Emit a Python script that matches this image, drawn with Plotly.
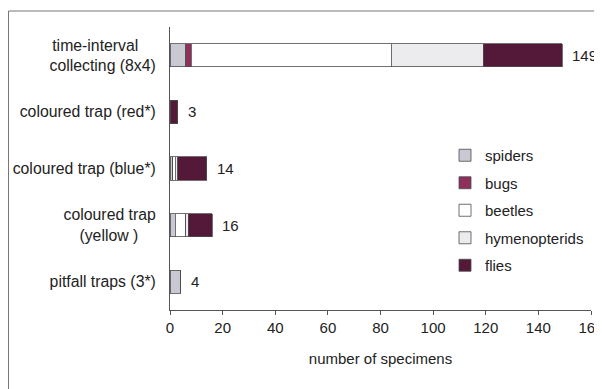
import plotly.graph_objects as go

categories = [
    "time-interval<br>collecting (8x4)",
    "coloured trap (red*)",
    "coloured trap (blue*)",
    "coloured trap<br>(yellow )",
    "pitfall traps (3*)",
]
cat_labels = [
    "time-interval\u00a0\u00a0\u00a0\u00a0<br>collecting (8x4)",
    "coloured trap (red*)",
    "coloured trap (blue*)",
    "coloured trap<br>(yellow )\u00a0\u00a0\u00a0\u00a0",
    "pitfall traps (3*)",
]
spiders = [6, 0, 1, 2, 4]
bugs = [2, 0, 0, 0, 0]
beetles = [76, 0, 1, 4, 0]
hymenopterids = [35, 0, 1, 1, 0]
flies = [30, 3, 11, 9, 0]
series_names = ["spiders", "bugs", "beetles", "hymenopterids", "flies"]
series_values = [spiders, bugs, beetles, hymenopterids, flies]
series_colors = ["#c9c9d3", "#8e2f5c", "#ffffff", "#ececee", "#541838"]
x_ticks = [0, 20, 40, 60, 80, 100, 120, 140, 160]

fig = go.Figure()
for name, vals, col in zip(series_names, series_values, series_colors):
    fig.add_trace(go.Bar(
        y=categories, x=vals, name=name, orientation="h",
        marker=dict(color=col, line=dict(color="#4d4d4d", width=0.8)),
        legendgroup=name,
    ))

totals = [sum(v) for v in zip(*series_values)]
for cat, tot in zip(categories, totals):
    fig.add_annotation(x=tot, y=cat, text=str(tot), showarrow=False,
                       xanchor="left", xshift=8,
                       font=dict(size=15, color="#222222"))

font = "Liberation Sans, Arial, sans-serif"
# page is offset by the 8px body margin
L, R, T, B = 162, 19, 19, 87
W, H = 602, 389
pw, ph = W - L - R, H - T - B
fig.update_layout(
    width=W, height=H,
    margin=dict(l=L, r=R, t=T, b=B),
    paper_bgcolor="white", plot_bgcolor="white",
    barmode="stack", bargap=0.59,
    font=dict(family=font, size=15, color="#222222"),
    showlegend=True,
    legend=dict(x=(437 - L) / pw, y=1 - (131 - T) / ph,
                xanchor="left", yanchor="top",
                traceorder="grouped", tracegroupgap=5,
                font=dict(size=15), bgcolor="rgba(0,0,0,0)"),
    xaxis=dict(range=[0, 160], tickvals=x_ticks, showgrid=False,
               showline=True, linecolor="#555555", linewidth=1,
               ticks="outside", ticklen=4, tickcolor="#555555",
               zeroline=False, automargin=False,
               title=dict(text="number of specimens", standoff=18,
                          font=dict(size=15))),
    yaxis=dict(categoryorder="array", categoryarray=categories[::-1],
               tickvals=categories, ticktext=cat_labels,
               tickfont=dict(size=15.8),
               showline=True, linecolor="#555555", linewidth=1,
               showgrid=False, ticks="", ticklabelstandoff=10,
               automargin=False),
)
fig.add_shape(type="rect", xref="paper", yref="paper",
              x0=(0.5 - L) / pw, x1=1.1, y0=-0.5, y1=1 + (T - 3) / ph,
              line=dict(color="#777777", width=1), layer="below")
fig.write_html("out.html")
